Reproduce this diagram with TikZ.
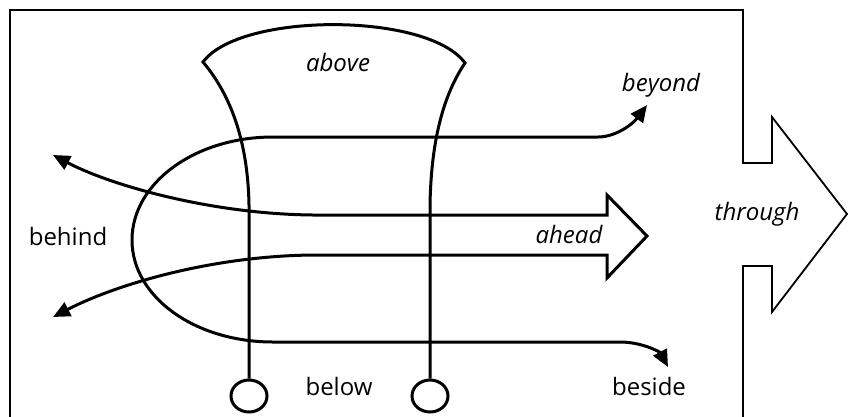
\documentclass[tikz,border=0pt]{standalone}
\usepackage{fontspec}
\setmainfont{Open Sans}
\usetikzlibrary{arrows.meta,shapes.geometric}

\tikzset{
  ink/.style={line width=3pt,line join=miter},
  frame/.style={line width=1.8pt},
  tipped/.style={ink,{Triangle[length=17pt,width=15pt]}-{Triangle[length=17pt,width=15pt]}},
  word/.style={anchor=base,inner sep=0pt,font=\fontsize{24}{28}\selectfont},
  slant/.style={word,font=\fontsize{24}{28}\selectfont\itshape},
  ball/.style={draw,ellipse,line width=3pt,minimum width=36pt,minimum height=32pt,inner sep=0pt}
}

\begin{document}
\begin{tikzpicture}[x=1pt,y=-1pt]
\useasboundingbox (0,0) rectangle (848,416);
\draw[frame] (10,430) -- (10,10) -- (743,10) -- (743,163) -- (772,163) -- (772,117) -- (847,214) -- (772,312) -- (772,266) -- (743,266) -- (743,430);
\node[ball] (lball) at (249,396) {};
\node[ball] (rball) at (430,396) {};
\draw[ink] (lball.north) -- (249,205) .. controls (248,150) and (235,100) .. (203,62) .. controls (240,12) and (428,12) .. (465,63) .. controls (440,100) and (431,150) .. (430,205) -- (rball.north);
\draw[tipped] (647,105) .. controls (632,125) and (615,137) .. (598,137) -- (273,137) .. controls (195,137) and (132,183) .. (132,240) .. controls (132,297) and (195,342) .. (273,342) -- (620,342) .. controls (642,342) and (660,352) .. (668,367);
\draw[tipped] (53,155) .. controls (110,185) and (210,214) .. (313,215) -- (607,215) -- (607,195) -- (647,236) -- (607,278) -- (607,255) -- (313,255) .. controls (210,256) and (115,285) .. (53,317);
\node[slant] (txtabove) at (338,71) {above};
\node[slant] (txtbeyond) at (661,91) {beyond};
\node[slant] (txtthrough) at (757,220) {through};
\node[slant] (txtahead) at (569,243) {ahead};
\node[word] (txtbehind) at (68,245) {behind};
\node[word] (txtbelow) at (339,395) {below};
\node[word] (txtbeside) at (649,395) {beside};
\end{tikzpicture}
\end{document}
